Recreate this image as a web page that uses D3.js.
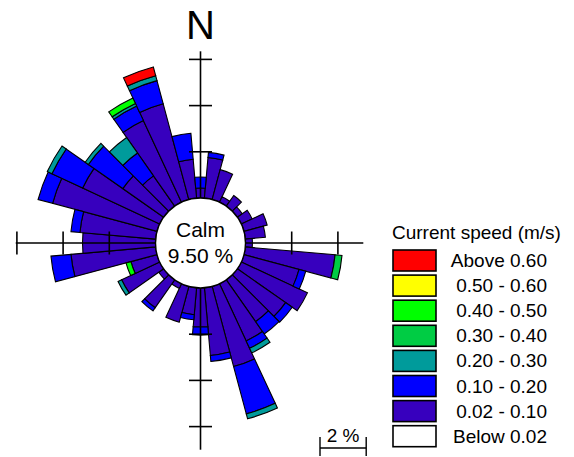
<!DOCTYPE html>
<html><head><meta charset="utf-8">
<script src="https://cdn.jsdelivr.net/npm/d3@7"></script>
<style>body{margin:0;background:#fff} svg{display:block}</style>
</head><body>
<svg id="c" width="574" height="457"></svg>
<script>
// ---- data ----
const directions = [0,10,20,30,40,50,60,70,80,90,100,110,120,130,140,150,160,170,180,190,200,210,220,230,240,250,260,270,280,290,300,310,320,330,340,350];
// percent of time per direction, per speed class
const spd002_010 = [0.43,1.77,1.34,0.26,0.56,0.26,0.52,1.04,0.87,0.30,3.90,2.47,3.16,2.55,2.21,2.73,3.59,2.94,1.69,1.17,1.60,0.22,1.47,0.26,1.82,1.17,3.68,3.16,3.29,4.68,3.68,2.16,1.60,3.90,4.29,1.69];
const spd010_020 = [0.48,0.22,0,0,0,0,0,0,0,0,0,0.30,0,0.35,0.65,0.35,2.12,0.26,0.35,0.22,0,0,0.17,0,0,0,0.87,0,0.39,0.65,1.47,1.82,1.21,0.69,1.04,1.13];
const spd020_030 = [0,0,0,0,0,0,0,0,0,0,0,0,0,0,0,0.22,0.22,0,0,0,0,0,0,0,0.17,0,0,0,0,0,0.22,0.17,0.82,0.13,0.22,0];
const spd030_040 = [0,0,0,0,0,0,0,0,0,0,0.30,0,0,0,0,0,0,0,0,0,0,0,0,0,0,0,0,0,0,0,0,0,0,0,0,0];
const spd040_050 = [0,0,0,0,0,0,0,0,0,0,0,0,0,0,0,0,0,0,0,0,0,0,0,0,0,0.22,0,0,0,0,0,0,0,0.26,0,0];
const spd050_060 = [0,0,0,0,0,0,0,0,0,0,0,0,0,0,0,0,0,0,0,0,0,0,0,0,0,0,0,0,0,0,0,0,0,0,0,0];
const spdAbove060 = [0,0,0,0,0,0,0,0,0,0,0,0,0,0,0,0,0,0,0,0,0,0,0,0,0,0,0,0,0,0,0,0,0,0,0.39,0];
const calmPercent = 9.50;

const legendTitle = "Current speed (m/s)";
const legendLabels = ["Above 0.60","0.50 - 0.60","0.40 - 0.50","0.30 - 0.40","0.20 - 0.30","0.10 - 0.20","0.02 - 0.10","Below 0.02"];
const legendColors = ["#ff0000","#ffff00","#00ff00","#00cc44","#009b9b","#0000ff","#3700be","#ffffff"];

const axisBearings = [0,90,180,270];
const axisLengths = [6.35,5.1,7.0,6.05];
const axisTicks = [2,4,6];
const scaleBarValue = 2;

// ---- layout ----
const svg = d3.select("#c");
const cx = 200.5, cy = 243;
const r = d3.scaleLinear().domain([0, 1]).range([45, 68.1]);
const deg = Math.PI / 180;
const halfWidth = 5;

const keys = ["k1","k2","k3","k4","k5","k6","k7"];
const series = [spd002_010, spd010_020, spd020_030, spd030_040, spd040_050, spd050_060, spdAbove060];
const keyColor = {k1:"#3700be",k2:"#0000ff",k3:"#009b9b",k4:"#00cc44",k5:"#00ff00",k6:"#ffff00",k7:"#ff0000"};
const table = directions.map((d, i) => {
  const o = {dir: d};
  keys.forEach((k, j) => o[k] = series[j][i]);
  return o;
});
const stacked = d3.stack().keys(keys)(table);

const g = svg.append("g").attr("transform", `translate(${cx},${cy})`);
const arc = d3.arc()
  .innerRadius(d => r(d[0]))
  .outerRadius(d => r(d[1]))
  .startAngle(d => (d.data.dir - halfWidth) * deg)
  .endAngle(d => (d.data.dir + halfWidth) * deg);

stacked.forEach(s => {
  g.append("g").selectAll("path")
    .data(s.filter(d => d[1] - d[0] > 0))
    .join("path")
    .attr("d", arc)
    .attr("fill", keyColor[s.key])
    .attr("stroke", "#000")
    .attr("stroke-width", 1.1)
    .attr("stroke-linejoin", "miter");
});

// axes
const ax = g.append("g").attr("stroke", "#000").attr("stroke-width", 1.6);
axisBearings.forEach((b, i) => {
  const ux = Math.sin(b * deg), uy = -Math.cos(b * deg);
  const len = r(axisLengths[i]);
  ax.append("line").attr("x1", ux * r(0)).attr("y1", uy * r(0)).attr("x2", ux * len).attr("y2", uy * len);
  axisTicks.filter(t => t <= axisLengths[i] + 0.01).forEach(t => {
    const rr = r(t), px = -uy, py = ux, h = 11.5;
    ax.append("line")
      .attr("x1", ux * rr - px * h).attr("y1", uy * rr - py * h)
      .attr("x2", ux * rr + px * h).attr("y2", uy * rr + py * h);
  });
});

// calm circle
g.append("circle").attr("r", r(0)).attr("fill", "#fff").attr("stroke", "#000").attr("stroke-width", 1.4);
g.append("text").attr("x", 0).attr("y", -6).attr("text-anchor", "middle")
  .attr("font-family", "Liberation Sans, Arial, sans-serif").attr("font-size", 21).text("Calm");
g.append("text").attr("x", 0).attr("y", 20).attr("text-anchor", "middle")
  .attr("font-family", "Liberation Sans, Arial, sans-serif").attr("font-size", 21).text(calmPercent.toFixed(2) + " %");

// N
svg.append("text").attr("x", cx).attr("y", 39).attr("text-anchor", "middle")
  .attr("font-family", "Liberation Sans, Arial, sans-serif").attr("font-size", 40).text("N");

// scale bar
const sbx = 320, sby = 448, sbLen = r(scaleBarValue) - r(0);
const sb = svg.append("g").attr("stroke", "#000").attr("stroke-width", 1.4);
sb.append("line").attr("x1", sbx).attr("y1", sby).attr("x2", sbx + sbLen).attr("y2", sby);
sb.append("line").attr("x1", sbx).attr("y1", 437).attr("x2", sbx).attr("y2", 456);
sb.append("line").attr("x1", sbx + sbLen).attr("y1", 437).attr("x2", sbx + sbLen).attr("y2", 456);
svg.append("text").attr("x", sbx + sbLen / 2).attr("y", 442).attr("text-anchor", "middle")
  .attr("font-family", "Liberation Sans, Arial, sans-serif").attr("font-size", 19).text(scaleBarValue + " %");

// legend
const lg = svg.append("g").attr("font-family", "Liberation Sans, Arial, sans-serif").attr("font-size", 19);
lg.append("text").attr("x", 392).attr("y", 239).text(legendTitle);
legendLabels.forEach((lab, i) => {
  const y = 250 + i * 25.1;
  lg.append("rect").attr("x", 393).attr("y", y).attr("width", 43).attr("height", 21)
    .attr("fill", legendColors[i]).attr("stroke", "#000").attr("stroke-width", 1.6);
  lg.append("text").attr("x", 547).attr("y", y + 17).attr("text-anchor", "end").text(lab);
});
</script>
</body></html>
